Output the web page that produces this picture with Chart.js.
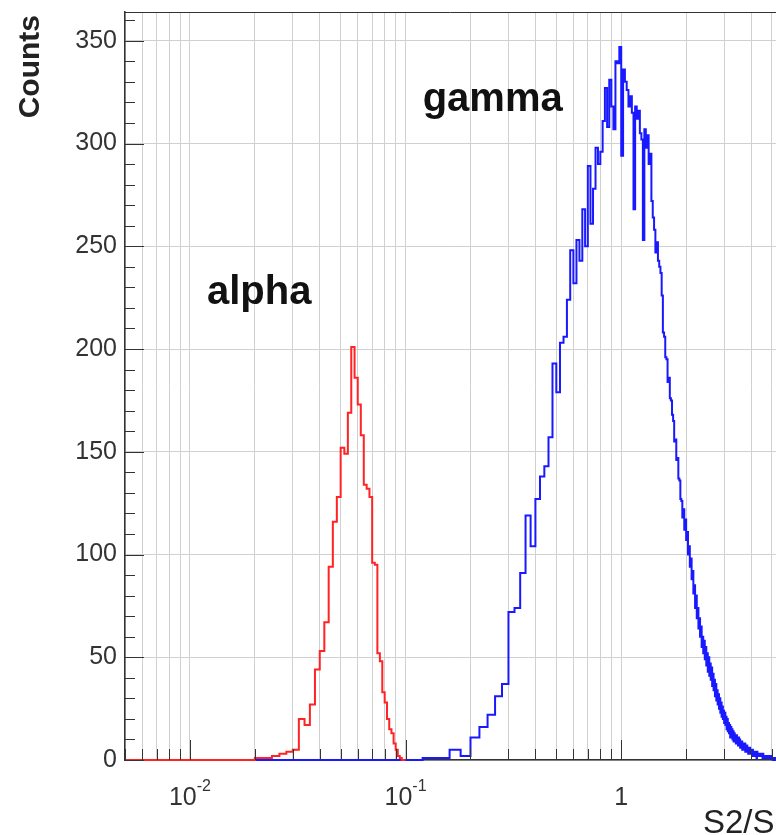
<!DOCTYPE html>
<html>
<head>
<meta charset="utf-8">
<title>S2/S1</title>
<script src="https://cdn.jsdelivr.net/npm/chart.js@4/dist/chart.umd.min.js"></script>
<style>
  html, body { margin: 0; padding: 0; background: #fff; overflow: hidden; }
  #wrap { width: 776px; height: 835px; }
</style>
</head>
<body>
<div id="wrap"><canvas id="s2s1Chart" width="776" height="835"></canvas></div>
<script>
// axis ranges
const xMin = 0.005;
const xMax = 5.22;
const yMax = 364;

// tick layout
const xDecades = [0.001, 0.01, 0.1, 1];
const xMultiples = [1, 2, 3, 4, 5, 6, 7, 8, 9];
const xLabelValues = [0.01, 0.1, 1];
const xLabelBase = ['10', '10', '1'];
const xLabelExp = ['-2', '-1', ''];
const yTicks = [0, 50, 100, 150, 200, 250, 300, 350];
const yMinorStep = 10;

// alpha histogram: 0.002 wide bins starting at 0.020
const alphaStart = 0.02;
const alphaWidth = 0.002;
const alphaCounts = [
    1, 1, 2, 3, 4, 5, 20, 17, 27, 44,
    53, 67, 94, 116, 128, 152, 149, 169, 201, 186,
    173, 158, 134, 132, 128, 96, 95, 52, 48, 33,
    28, 20, 15, 13, 8, 5, 2, 1, 0, 0
];

// gamma histogram: 0.02 wide bins starting at 0.12
const gammaStart = 0.12;
const gammaWidth = 0.02;
const gammaCounts = [
    1, 1, 5, 2, 11, 16, 22, 31, 37, 72,            // 0.12
    74, 91, 119, 104, 127, 138, 143, 157, 193, 179, // 0.32
    203, 206, 224, 248, 232, 253, 243, 268, 250, 289, // 0.52
    261, 278, 298, 290, 296, 311, 327, 308, 331, 318, // 0.72
    307, 340, 339, 347, 294, 336, 330, 326, 318, 323, // 0.92
    315, 268, 318, 312, 316, 305, 302, 253, 307, 298, // 1.12
    304, 290, 295, 272, 264, 258, 247, 252, 243, 240, // 1.32
    237, 226, 208, 206, 196, 195, 184, 186, 176, 175, // 1.52
    168, 165, 155, 156, 146, 147, 137, 136, 127, 126, // 1.72
    118, 122, 112, 117, 107, 111, 100, 104, 94, 98,  // 1.92
    88, 92, 81, 85, 74, 80, 69, 74, 64, 69,          // 2.12
    60, 65, 55, 60, 52, 58, 49, 55, 46, 52,          // 2.32
    43, 50, 41, 47, 39, 45, 36, 42, 34, 39,          // 2.52
    31, 37, 29, 34, 27, 32, 25, 30, 23, 28,          // 2.72
    21, 26, 20, 24, 18, 23, 17, 21, 15, 20,          // 2.92
    14, 18, 13, 17, 11, 16, 11, 15, 10, 14,          // 3.12
    9, 13, 9, 12, 8, 12, 8, 11, 7, 11,               // 3.32
    7, 10, 6, 9, 6, 9, 5, 8, 5, 8,                   // 3.52
    5, 8, 4, 7, 4, 7, 4, 6, 3, 6,                    // 3.72
    3, 6, 3, 5, 3, 5, 2, 5, 2, 4,                    // 3.92
    2, 4, 2, 4, 2, 4, 1, 4, 2, 3,                    // 4.12
    2, 3, 2, 3, 2, 3, 2, 3, 2, 2,                    // 4.32
    1, 3, 2, 2, 1, 2, 2, 2, 1, 2,                    // 4.52
    1, 2, 1, 2, 1, 2, 1, 1, 1, 2,                    // 4.72
    1, 1, 1, 2, 1, 1, 0, 1, 1, 1,                    // 4.92
    1, 0, 1, 1, 0, 1, 1, 0, 1, 0                     // 5.12
];

// text placed in data coordinates
const labelAlpha = { text: 'alpha', x: 0.012, y: 222 };
const labelGamma = { text: 'gamma', x: 0.12, y: 316 };

const FONT = "'Liberation Sans', Arial, Helvetica, sans-serif";

// step outline: one point per lower bin edge, plus the closing edge
function histPoints(start, width, counts) {
    const pts = [{ x: xMin, y: 0 }];
    counts.forEach((c, i) => pts.push({ x: +(start + i * width).toFixed(5), y: c }));
    pts.push({ x: +(start + counts.length * width).toFixed(5), y: counts[counts.length - 1] });
    return pts;
}

const xTickValues = [];
xDecades.forEach(d => xMultiples.forEach(m => {
    const v = +(d * m).toPrecision(3);
    if (v >= xMin && v <= xMax) xTickValues.push(v);
}));

// ROOT-like frame: inner ticks, superscript labels, titles
const framePlugin = {
    id: 'frame',
    afterDraw(chart) {
        const { ctx, chartArea: a, scales: { x, y } } = chart;
        ctx.save();

        // top frame line
        ctx.strokeStyle = '#333';
        ctx.lineWidth = 1;
        ctx.beginPath();
        ctx.moveTo(a.left, a.top + 0.5);
        ctx.lineTo(a.right, a.top + 0.5);
        ctx.stroke();

        // x ticks pointing up from the bottom axis
        ctx.beginPath();
        xTickValues.forEach(v => {
            const px = Math.round(x.getPixelForValue(v)) + 0.5;
            const len = xLabelValues.includes(v) ? 20 : 11;
            ctx.moveTo(px, a.bottom);
            ctx.lineTo(px, a.bottom - len);
        });
        // y ticks pointing right from the left axis
        for (let v = 0; v <= yMax; v += yMinorStep) {
            const py = Math.round(y.getPixelForValue(v)) + 0.5;
            const len = v % 50 === 0 ? 19 : 10;
            ctx.moveTo(a.left, py);
            ctx.lineTo(a.left + len, py);
        }
        ctx.stroke();

        // y tick labels
        ctx.fillStyle = '#333';
        ctx.font = '25px ' + FONT;
        ctx.textAlign = 'right';
        ctx.textBaseline = 'middle';
        yTicks.forEach(v => ctx.fillText(String(v), a.left - 8, y.getPixelForValue(v)));

        // x tick labels with exponents
        ctx.textAlign = 'left';
        ctx.textBaseline = 'alphabetic';
        xLabelValues.forEach((v, i) => {
            ctx.font = '25px ' + FONT;
            const wBase = ctx.measureText(xLabelBase[i]).width;
            ctx.font = '16px ' + FONT;
            const wExp = xLabelExp[i] ? ctx.measureText(xLabelExp[i]).width : 0;
            const left = x.getPixelForValue(v) - (wBase + wExp) / 2;
            ctx.font = '25px ' + FONT;
            ctx.fillText(xLabelBase[i], left, a.bottom + 45);
            if (wExp) {
                ctx.font = '16px ' + FONT;
                ctx.fillText(xLabelExp[i], left + wBase, a.bottom + 31);
            }
        });

        // axis titles
        ctx.fillStyle = '#222';
        ctx.font = '33px ' + FONT;
        ctx.fillText('S2/S1', 703, 833);

        ctx.save();
        ctx.translate(31, a.top + 3);
        ctx.rotate(-Math.PI / 2);
        ctx.font = 'bold 30px ' + FONT;
        ctx.textAlign = 'right';
        ctx.textBaseline = 'middle';
        ctx.fillText('Counts', 0, 0);
        ctx.restore();

        // peak labels
        ctx.fillStyle = '#111';
        ctx.font = 'bold 40px ' + FONT;
        ctx.textAlign = 'left';
        [labelAlpha, labelGamma].forEach(l => {
            ctx.fillText(l.text, x.getPixelForValue(l.x), y.getPixelForValue(l.y));
        });

        ctx.restore();
    }
};

const ctx = document.getElementById('s2s1Chart').getContext('2d');
const s2s1Chart = new Chart(ctx, {
    type: 'line',
    data: {
        datasets: [{
            label: 'alpha',
            data: histPoints(alphaStart, alphaWidth, alphaCounts),
            stepped: 'before',
            borderColor: 'rgb(255,35,35)',
            borderWidth: 2,
            pointRadius: 0,
            fill: false,
            clip: { left: 0, top: 0, right: 0, bottom: 2 }
        }, {
            label: 'gamma',
            data: histPoints(gammaStart, gammaWidth, gammaCounts),
            stepped: 'before',
            borderColor: 'rgb(25,25,255)',
            borderWidth: 2,
            pointRadius: 0,
            fill: false,
            clip: { left: 0, top: 0, right: 0, bottom: 2 }
        }]
    },
    options: {
        responsive: false,
        animation: false,
        devicePixelRatio: 1,
        layout: { padding: { left: 125, top: 12, right: 0, bottom: 75 } },
        plugins: { legend: { display: false }, tooltip: { enabled: false } },
        scales: {
            x: {
                type: 'logarithmic',
                min: xMin,
                max: xMax,
                afterBuildTicks: s => { s.ticks = xTickValues.map(v => ({ value: v })); },
                ticks: { display: false },
                grid: { color: '#d0d0d0', lineWidth: 1, drawTicks: false },
                border: { display: true, color: '#333', width: 1.5 }
            },
            y: {
                type: 'linear',
                min: 0,
                max: yMax,
                afterBuildTicks: s => { s.ticks = yTicks.map(v => ({ value: v })); },
                ticks: { display: false },
                grid: { color: '#d0d0d0', lineWidth: 1, drawTicks: false },
                border: { display: true, color: '#333', width: 1.5 }
            }
        }
    },
    plugins: [framePlugin]
});
</script>
</body>
</html>
